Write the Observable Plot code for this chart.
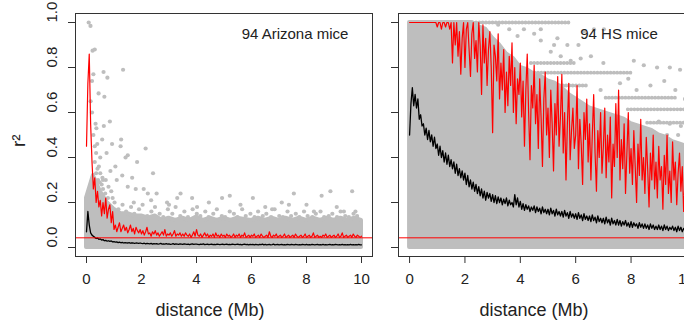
<!DOCTYPE html>
<html><head><meta charset="utf-8">
<script src="https://cdn.jsdelivr.net/npm/d3@7"></script>
<script src="https://cdn.jsdelivr.net/npm/@observablehq/plot@0.6"></script>
<style>
html,body{margin:0;padding:0;background:#fff;overflow:hidden;width:684px;height:320px}
#wrap{position:relative;width:684px;height:320px;overflow:hidden;background:#fff}
#left{position:absolute;left:0;top:0;width:385px;height:320px}
#right{position:absolute;left:385px;top:0;width:312px;height:320px}
svg{background:#fff;max-width:none !important;display:block}
</style></head>
<body><div id="wrap"><div id="left"></div><div id="right"></div></div>
<script>
// ---- data ----
const binStep = 0.05;      // distance bin width (Mb) for the mean / 95th-percentile lines
const cloudStep = 0.25;    // distance step for the dense cloud outline
const threshold = 0.043;
const xTicks = [0, 2, 4, 6, 8, 10];
const yTicks = [0, 0.2, 0.4, 0.6, 0.8, 1.0];
const yTickLabels = ["0.0", "0.2", "0.4", "0.6", "0.8", "1.0"];
const xTitle = "distance (Mb)";
const yTitle = "r\u00B2";
const arizonaTitle = "94 Arizona mice";
const hsTitle = "94 HS mice";

const arizonaRed = [
0.45,0.73,0.86,0.55,0.38,0.26,0.31,0.2,0.25,0.18,
0.21,0.14,0.2,0.15,0.22,0.13,0.17,0.19,0.11,0.16,
0.08,0.1,0.07,0.09,0.11,0.07,0.085,0.1,0.075,0.09,
0.065,0.08,0.1,0.07,0.085,0.06,0.09,0.075,0.065,0.08,
0.06,0.075,0.055,0.07,0.09,0.06,0.065,0.05,0.07,0.06,
0.075,0.055,0.065,0.05,0.06,0.07,0.055,0.08,0.05,0.06,
0.055,0.065,0.05,0.06,0.075,0.05,0.06,0.055,0.065,0.05,
0.06,0.05,0.065,0.055,0.05,0.06,0.045,0.055,0.07,0.05,
0.08,0.055,0.05,0.06,0.045,0.055,0.065,0.05,0.06,0.045,
0.055,0.05,0.06,0.045,0.065,0.05,0.055,0.045,0.06,0.05,
0.055,0.045,0.06,0.05,0.055,0.045,0.05,0.06,0.045,0.055,
0.05,0.06,0.045,0.055,0.05,0.065,0.045,0.05,0.055,0.045,
0.055,0.05,0.06,0.045,0.05,0.055,0.045,0.06,0.05,0.045,
0.05,0.055,0.045,0.07,0.05,0.045,0.055,0.05,0.06,0.045,
0.05,0.055,0.045,0.05,0.06,0.045,0.05,0.055,0.045,0.05,
0.055,0.045,0.06,0.05,0.045,0.05,0.055,0.045,0.05,0.06,
0.045,0.05,0.055,0.045,0.05,0.065,0.045,0.05,0.055,0.045,
0.05,0.045,0.055,0.05,0.06,0.045,0.05,0.055,0.045,0.05,
0.055,0.045,0.05,0.06,0.045,0.05,0.065,0.045,0.05,0.055,
0.045,0.05,0.055,0.045,0.06,0.05,0.045,0.055,0.05,0.045,
0.05];

const arizonaBlack = [
0.07,0.16,0.1,0.065,0.055,0.05,0.045,0.04,0.042,0.036,
0.038,0.033,0.035,0.03,0.032,0.028,0.03,0.027,0.029,0.025,
0.026,0.024,0.025,0.022,0.024,0.021,0.023,0.02,0.022,0.021,
0.02,0.022,0.019,0.021,0.02,0.018,0.02,0.019,0.018,0.02,
0.018,0.017,0.019,0.016,0.018,0.017,0.016,0.018,0.015,0.017,
0.016,0.017,0.015,0.016,0.018,0.015,0.016,0.015,0.017,0.015,
0.016,0.014,0.015,0.017,0.014,0.016,0.015,0.014,0.016,0.015,
0.014,0.016,0.015,0.014,0.015,0.013,0.015,0.016,0.014,0.015,
0.015,0.014,0.013,0.015,0.014,0.016,0.013,0.014,0.015,0.013,
0.014,0.015,0.013,0.014,0.013,0.015,0.014,0.013,0.014,0.015,
0.013,0.014,0.015,0.013,0.014,0.013,0.015,0.014,0.013,0.014,
0.015,0.013,0.014,0.012,0.014,0.015,0.013,0.014,0.012,0.014,
0.013,0.014,0.012,0.014,0.013,0.012,0.014,0.013,0.015,0.012,
0.014,0.012,0.013,0.014,0.012,0.013,0.015,0.012,0.013,0.014,
0.012,0.013,0.014,0.012,0.013,0.012,0.014,0.013,0.012,0.014,
0.013,0.012,0.014,0.013,0.012,0.013,0.012,0.014,0.013,0.012,
0.014,0.012,0.013,0.012,0.014,0.013,0.012,0.013,0.014,0.012,
0.013,0.012,0.014,0.012,0.013,0.012,0.013,0.014,0.012,0.013,
0.012,0.014,0.013,0.012,0.013,0.012,0.014,0.012,0.013,0.012,
0.013,0.012,0.014,0.012,0.013,0.012,0.013,0.012,0.014,0.012,
0.012];

const arizonaCloudTop = [
0.22,0.32,0.25,0.2,0.17,0.15,0.15,0.14,0.14,0.13,
0.14,0.12,0.13,0.12,0.13,0.12,0.135,0.12,0.13,0.12,
0.13,0.12,0.13,0.125,0.12,0.13,0.12,0.13,0.12,0.13,
0.12,0.13,0.12,0.13,0.12,0.13,0.12,0.13,0.12,0.13,
0.12];

const arizonaDotsX = [0.08,0.145,0.22,0.3,0.25,0.62,0.76,1.33,0.2,0.44,0.65,0.36,0.63,0.85,0.39,0.57,0.93,1.26,1.24,2.15,0.5,0.73,1.42,1.5,1.84,2.42,1.3,1.66,0.87,1.05,2.08,2.23,2.55,1.79,1.5,3.42,3.3,5.21,4.93,4.45,6.05,7.54,8.55,8.87,9.66,7.36,6.75,8.27,9.36,9.78,3.84,4.02,1.72,2.93,2.35,5.6,6.5,7.1,8.0,9.1,3.0,1.1,0.6,0.45,0.3,
0.3,0.35,0.42,0.5,0.55,0.6,0.7,0.8,0.9,0.95,0.25,0.33,0.35,0.2,0.15,0.48,0.68,0.78,0.4,0.58];
const arizonaDotsY = [1.0,0.985,0.875,0.88,0.77,0.78,0.755,0.79,0.74,0.685,0.67,0.53,0.54,0.56,0.46,0.48,0.46,0.48,0.45,0.44,0.40,0.42,0.40,0.41,0.38,0.33,0.32,0.31,0.34,0.36,0.26,0.24,0.24,0.26,0.27,0.24,0.22,0.23,0.22,0.2,0.22,0.24,0.23,0.25,0.25,0.19,0.17,0.16,0.16,0.16,0.22,0.18,0.2,0.2,0.21,0.19,0.18,0.2,0.19,0.18,0.19,0.3,0.3,0.36,0.45,
0.38,0.33,0.3,0.33,0.28,0.26,0.3,0.27,0.25,0.22,0.5,0.55,0.42,0.6,0.65,0.29,0.24,0.22,0.35,0.31];

// fringe of points above the dense band
const arizonaFringeX = [
1.02,1.16,1.31,1.44,1.62,1.74,1.91,2.04,2.21,2.36,
2.49,2.66,2.79,2.96,3.12,3.24,3.41,3.56,3.69,3.86,
4.01,4.14,4.32,4.44,4.61,4.74,4.92,5.04,5.21,5.36,
5.49,5.66,5.79,5.96,6.11,6.24,6.41,6.54,6.71,6.84,
7.01,7.14,7.31,7.44,7.61,7.74,7.91,8.04,8.21,8.34,
8.51,8.64,8.81,8.94,9.11,9.24,9.41,9.54,9.71,9.84];
const arizonaFringeY = [
0.2,0.17,0.19,0.16,0.18,0.15,0.17,0.19,0.14,0.16,
0.18,0.15,0.135,0.17,0.15,0.18,0.14,0.16,0.135,0.17,
0.15,0.14,0.16,0.135,0.15,0.17,0.14,0.135,0.16,0.15,
0.135,0.17,0.14,0.15,0.135,0.16,0.14,0.15,0.135,0.17,
0.14,0.135,0.16,0.14,0.15,0.135,0.16,0.14,0.135,0.15,
0.16,0.135,0.14,0.15,0.135,0.16,0.14,0.135,0.15,0.14];

const hsRed = [
1,1,1,1,1,1,1,1,1,1,
1,1,1,1,1,1,1,1,1,1,
0.98,1,1,0.97,1,1,0.98,1,1,0.97,
1,0.82,1,0.9,1,0.85,0.96,0.77,0.93,1,
0.8,0.97,1,0.88,0.76,0.95,1,0.84,0.92,0.78,
1,0.9,0.68,0.99,0.82,0.93,0.72,0.88,0.96,0.8,
0.51,0.9,0.85,0.74,0.95,0.66,0.82,0.7,0.88,0.6,
0.78,0.63,0.85,0.72,0.91,0.6,0.8,0.55,0.75,0.68,
0.82,0.58,0.74,0.45,0.7,0.86,0.6,0.39,0.72,0.62,
0.81,0.55,0.68,0.44,0.75,0.58,0.36,0.66,0.78,0.5,
0.62,0.4,0.7,0.55,0.34,0.64,0.5,0.76,0.45,0.58,
0.77,0.42,0.6,0.3,0.55,0.73,0.39,0.52,0.62,0.44,
0.5,0.72,0.35,0.57,0.46,0.28,0.6,0.48,0.66,0.38,
0.55,0.3,0.5,0.68,0.42,0.25,0.52,0.4,0.6,0.33,
0.45,0.62,0.31,0.5,0.38,0.58,0.22,0.46,0.36,0.64,
0.4,0.7,0.3,0.48,0.35,0.55,0.24,0.42,0.6,0.33,
0.44,0.28,0.52,0.36,0.2,0.46,0.32,0.57,0.3,0.4,
0.24,0.49,0.35,0.18,0.42,0.3,0.5,0.26,0.38,0.22,
0.45,0.3,0.36,0.17,0.41,0.28,0.5,0.24,0.34,0.2,
0.47,0.3,0.38,0.19,0.33,0.42,0.25,0.36,0.16,0.3,
0.11];

const hsBlack = [
0.50,0.64,0.71,0.63,0.68,0.62,0.66,0.57,0.59,0.54,
0.55,0.50,0.53,0.48,0.52,0.47,0.50,0.45,0.49,0.44,
0.46,0.41,0.45,0.40,0.43,0.38,0.42,0.37,0.41,0.36,
0.39,0.35,0.38,0.33,0.37,0.32,0.35,0.31,0.34,0.30,
0.33,0.28,0.32,0.27,0.30,0.26,0.29,0.25,0.28,0.24,
0.27,0.23,0.26,0.22,0.25,0.21,0.245,0.22,0.24,0.205,
0.235,0.2,0.23,0.195,0.225,0.2,0.22,0.19,0.215,0.195,
0.22,0.185,0.21,0.19,0.2,0.18,0.235,0.19,0.22,0.18,
0.205,0.17,0.195,0.165,0.19,0.17,0.185,0.16,0.18,0.165,
0.185,0.155,0.18,0.16,0.175,0.15,0.18,0.155,0.17,0.15,
0.17,0.145,0.175,0.15,0.165,0.14,0.17,0.145,0.16,0.14,
0.16,0.135,0.165,0.14,0.155,0.13,0.16,0.135,0.15,0.13,
0.15,0.125,0.155,0.13,0.145,0.12,0.15,0.125,0.14,0.12,
0.14,0.115,0.145,0.12,0.135,0.11,0.14,0.115,0.13,0.11,
0.13,0.105,0.135,0.11,0.125,0.1,0.13,0.105,0.12,0.1,
0.125,0.1,0.12,0.095,0.115,0.1,0.12,0.095,0.11,0.09,
0.115,0.09,0.11,0.095,0.105,0.085,0.11,0.09,0.105,0.085,
0.105,0.085,0.1,0.08,0.105,0.085,0.1,0.08,0.095,0.08,
0.1,0.08,0.095,0.075,0.1,0.08,0.095,0.075,0.09,0.08,
0.095,0.075,0.09,0.07,0.095,0.075,0.09,0.07,0.085,0.075,
0.06];

const hsCloudTop = [
1,1,1,1,1,1,1,1,1,1,
0.98,0.97,0.93,0.9,0.86,0.84,0.8,0.79,0.77,0.76,
0.74,0.73,0.71,0.68,0.66,0.64,0.62,0.61,0.6,0.59,
0.58,0.57,0.55,0.54,0.53,0.52,0.5,0.49,0.47,0.46,
0.45];

// streaks of overlapping points (r² value, start and end distance)
const hsStreakY  = [1.0, 0.82, 0.777, 0.72, 0.666, 0.614, 0.555];
const hsStreakX1 = [2.3, 4.4, 4.3, 4.6, 7.1, 7.9, 8.6];
const hsStreakX2 = [5.8, 6.0, 8.1, 6.4, 9.7, 10.0, 10.0];

const hsDotsX = [3.9,4.13,4.74,4.5,5.34,4.74,5.22,5.7,6.1,6.3,6.66,7.02,5.1,5.46,5.82,6.18,6.55,7.0,8.1,8.46,8.94,9.4,9.77,8.7,9.2,9.6,8.2,9.0,9.4,9.8,9.3,9.7,7.6,7.9,3.6,3.2,6.9,9.95];
const hsDotsY = [0.94,0.97,0.97,0.95,0.93,0.92,0.9,0.9,0.9,0.96,0.97,0.97,0.87,0.85,0.83,0.84,0.85,0.82,0.83,0.81,0.8,0.8,0.79,0.72,0.74,0.7,0.7,0.56,0.55,0.54,0.5,0.5,0.73,0.75,0.97,0.99,0.7,0.66];

// ---- drawing ----
const gray = "#bebebe";
const red = "#ff0000";
const font = "'Liberation Sans', Arial, Helvetica, sans-serif";

function series(values, step) {
  return values.map((v, i) => ({distance: Math.round(i * step * 1000) / 1000, r2: v}));
}
function points(xs, ys) {
  return xs.map((x, i) => ({x, y: ys[i]}));
}

function panel({width, marginLeft, marginRight, redVals, blackVals, cloud, dots, streaks, title, showYLabels}) {
  const marks = [
    Plot.areaY(series(cloud, cloudStep), {x: "distance", y: "r2", fill: gray, stroke: gray, strokeWidth: 4, strokeLinejoin: "round"})
  ];
  if (streaks) {
    marks.push(Plot.ruleY(streaks, {y: "y", x1: "x1", x2: "x2", stroke: gray, strokeWidth: 3.8, strokeLinecap: "round", strokeDasharray: "0,3.3"}));
  }
  marks.push(Plot.dot(dots, {x: "x", y: "y", r: 2.1, fill: gray}));
  marks.push(Plot.line(series(blackVals, binStep), {x: "distance", y: "r2", stroke: "#000", strokeWidth: 1.3}));
  marks.push(Plot.line(series(redVals, binStep), {x: "distance", y: "r2", stroke: red, strokeWidth: 1.2}));
  marks.push(Plot.ruleY([threshold], {stroke: red, strokeWidth: 1}));
  marks.push(Plot.frame({stroke: "#333", strokeWidth: 1}));
  marks.push(Plot.axisX({ticks: xTicks, tickSize: 7, tickPadding: 10, label: null, fontSize: 15, stroke: "#333"}));
  marks.push(Plot.axisY({ticks: yTicks, tickSize: 7, tickFormat: () => "", label: null, stroke: "#333"}));
  if (showYLabels) {
    marks.push(Plot.text(yTicks, {y: d => d, text: (d, i) => yTickLabels[i], frameAnchor: "left", dx: -23, rotate: -90, fontSize: 15}));
    marks.push(Plot.text([yTitle], {text: d => d, frameAnchor: "left", dx: -57, dy: 12, rotate: -90, fontSize: 19}));
  }
  marks.push(Plot.text([title], {text: d => d, frameAnchor: "top", dx: 71, dy: 21, lineAnchor: "middle", fontSize: 15}));
  marks.push(Plot.text([xTitle], {text: d => d, frameAnchor: "bottom", dx: -14, dy: 54, lineAnchor: "middle", fontSize: 18}));
  return Plot.plot({
    width, height: 320, marginLeft, marginRight, marginTop: 13, marginBottom: 64,
    x: {domain: [-0.4, 10.4]},
    y: {domain: [-0.04, 1.04]},
    style: {fontFamily: font, fontSize: "15px", color: "#222", background: "#fff", overflow: "visible"},
    marks
  });
}

const hsStreaks = hsStreakY.map((y, i) => ({y, x1: hsStreakX1[i], x2: hsStreakX2[i]}));

document.getElementById("left").append(panel({
  width: 385, marginLeft: 75, marginRight: 13,
  redVals: arizonaRed, blackVals: arizonaBlack, cloud: arizonaCloudTop,
  dots: points(arizonaDotsX, arizonaDotsY).concat(points(arizonaFringeX, arizonaFringeY)),
  streaks: null, title: arizonaTitle, showYLabels: true
}));
document.getElementById("right").append(panel({
  width: 312, marginLeft: 13, marginRight: 0,
  redVals: hsRed, blackVals: hsBlack, cloud: hsCloudTop,
  dots: points(hsDotsX, hsDotsY), streaks: hsStreaks, title: hsTitle, showYLabels: false
}));
</script>
</body></html>
